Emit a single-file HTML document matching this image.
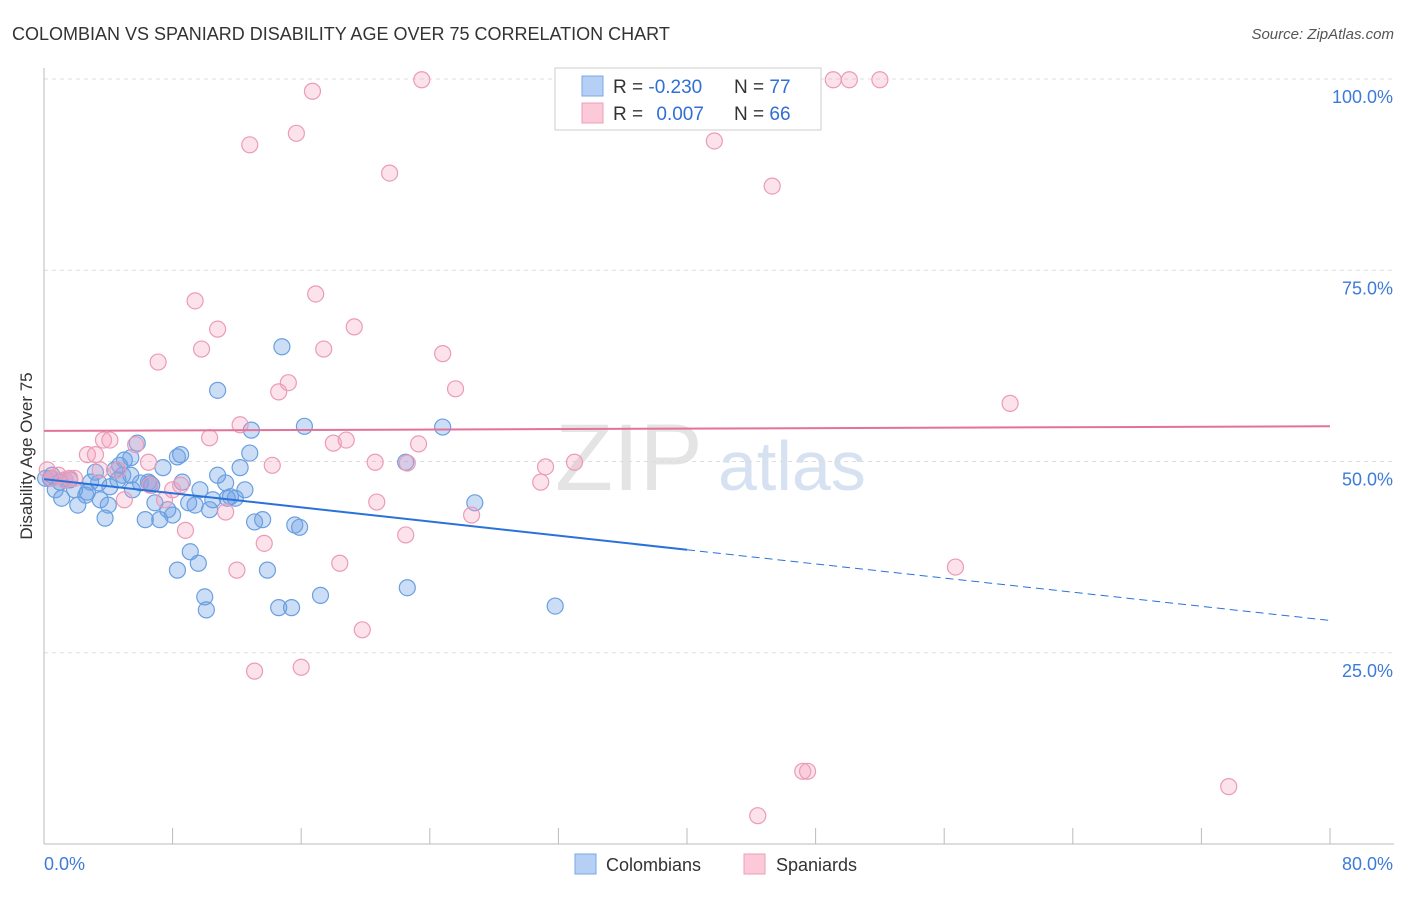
<!DOCTYPE html>
<html><head><meta charset="utf-8"><style>
body{margin:0;background:#fff;font-family:"Liberation Sans",sans-serif;}
svg text{font-family:"Liberation Sans",sans-serif;}
</style></head><body>
<svg id="chart" width="1406" height="892" xmlns="http://www.w3.org/2000/svg">
<text x="12" y="40" font-size="18" fill="#333">COLOMBIAN VS SPANIARD DISABILITY AGE OVER 75 CORRELATION CHART</text>
<text x="1394" y="39" font-size="15" fill="#555" font-style="italic" text-anchor="end">Source: ZipAtlas.com</text>
<text x="32" y="456" font-size="17" fill="#333" text-anchor="middle" transform="rotate(-90 32 456)">Disability Age Over 75</text>
<text x="555" y="490" font-size="95" fill="#e4e4e4" font-family="Liberation Serif">ZIP</text>
<text x="718" y="490" font-size="70" fill="#d6e2f2">atlas</text>
<g id="grid"></g><g id="axes"></g><g id="pts"></g><g id="trend"></g>
<g>
<rect x="555" y="68" width="266" height="62" fill="#fff" stroke="#ccc"/>
<rect x="582" y="76" width="21" height="20" fill="#b6d0f5" stroke="#7aa7e6"/>
<rect x="582" y="103" width="21" height="20" fill="#fbc9d8" stroke="#ee9db8"/>
<text x="613" y="93" font-size="19" fill="#333">R = <tspan fill="#2f6fd6">-0.230</tspan></text>
<text x="734" y="93" font-size="19" fill="#333">N = <tspan fill="#2f6fd6">77</tspan></text>
<text x="613" y="120" font-size="19" fill="#333">R = <tspan fill="#2f6fd6" dx="8">0.007</tspan></text>
<text x="734" y="120" font-size="19" fill="#333">N = <tspan fill="#2f6fd6">66</tspan></text>
</g>
<g>
<rect x="575" y="854" width="21" height="20" fill="#b6d0f5" stroke="#7aa7e6"/>
<text x="606" y="871" font-size="18" fill="#333">Colombians</text>
<rect x="744" y="854" width="21" height="20" fill="#fbc9d8" stroke="#ee9db8"/>
<text x="776" y="871" font-size="18" fill="#333">Spaniards</text>
</g>
</svg>
<script>
const blueX=[0.4,0.7,1.0,1.1,1.6,1.9,2.1,2.6,2.7,3.2,3.4,3.5,3.8,4.0,4.1,4.4,4.7,4.9,5.0,5.4,5.5,5.8,6.0,6.3,6.5,6.7,6.9,7.2,7.4,7.7,8.0,8.3,8.5,8.6,9.0,9.1,9.4,9.6,9.7,10.0,10.1,10.3,10.5,10.8,10.8,11.3,11.4,11.6,11.9,12.2,12.5,12.8,12.9,13.1,13.6,13.9,14.6,14.8,15.4,15.6,15.9,16.2,17.2,22.5,22.6,24.8,26.8,31.8,8.3,5.4,0.1,0.5,1.3,2.9,4.6,6.6];
const blueY=[47.8,46.3,47.3,45.2,47.6,46.3,44.3,45.6,46.0,48.6,47.2,45.0,42.6,44.3,46.7,48.9,49.5,48.2,50.2,48.2,46.3,52.4,47.2,42.4,47.3,46.9,44.6,42.4,49.2,43.7,43.0,50.6,50.9,47.3,44.6,38.2,44.3,36.7,46.3,32.3,30.6,43.7,45.0,59.3,48.2,47.2,45.2,45.4,45.2,49.2,46.3,51.1,54.1,42.1,42.4,35.8,30.9,65.0,30.9,41.7,41.4,54.6,32.5,49.9,33.5,54.5,44.6,31.1,35.8,50.5,47.8,48.2,47.6,47.3,47.6,47.1];
const pinkX=[0.2,0.5,0.9,1.3,1.6,1.9,2.7,3.2,3.5,3.7,4.1,4.6,5.0,5.7,6.5,6.6,7.1,7.5,8.0,8.5,8.8,9.4,9.8,10.3,10.8,11.3,12.0,12.2,12.8,13.1,13.7,14.2,14.6,15.2,15.7,16.0,16.7,16.9,17.4,18.0,18.4,18.8,19.3,19.8,20.6,20.7,21.5,22.5,22.6,23.3,23.5,24.8,25.6,26.6,30.9,31.2,33.0,41.7,44.4,45.3,47.2,47.5,49.1,50.1,52.0,56.7,60.1,73.7];
const pinkY=[48.9,47.8,48.2,47.6,47.8,47.8,50.9,50.9,48.9,52.8,52.8,48.9,45.0,52.2,49.9,46.9,63.0,45.0,46.3,46.9,41.0,71.0,64.7,53.1,67.3,43.4,35.8,54.8,91.4,22.6,39.3,49.5,59.1,60.3,92.9,23.1,98.4,71.9,64.7,52.4,36.7,52.8,67.6,28.0,49.9,44.7,87.7,40.4,49.8,52.3,99.9,64.1,59.5,43.0,47.3,49.3,49.9,91.9,3.7,86.0,9.5,9.5,99.9,99.9,99.9,36.2,57.6,7.5];
const yTicks=[25,50,75,100];
const yTickLabels=["25.0%","50.0%","75.0%","100.0%"];
const xTicks=[0,8,16,24,32,40,48,56,64,72,80];
const blueTrend=[47.7,-0.231]; // intercept, slope
const pinkTrend=[54.0,0.0075];
const blueSolidEnd=40;

const NS="http://www.w3.org/2000/svg";
const X=v=>44+v/80*1286;
const Y=v=>844-v/100*765;
function mk(tag,attrs,parent){const e=document.createElementNS(NS,tag);for(const k in attrs)e.setAttribute(k,attrs[k]);document.getElementById(parent).appendChild(e);return e;}
yTicks.forEach((t,i)=>{
  const l=mk('line',{x1:44,x2:1394,y1:Y(t),y2:Y(t),stroke:'#ddd','stroke-dasharray':'4,4'},'grid');
  
  
  const tx=mk('text',{x:1393,y:Y(t)+24,'font-size':18,fill:'#3d7bd9','text-anchor':'end'},'grid');
  tx.textContent=yTickLabels[i];
  
  
});
let a=mk('line',{x1:44,x2:44,y1:68,y2:844,stroke:'#bbb'},'axes');


a=mk('line',{x1:44,x2:1394,y1:844,y2:844,stroke:'#bbb'},'axes');


xTicks.forEach(t=>{
  const l=mk('line',{x1:X(t),x2:X(t),y1:828,y2:844,stroke:'#bbb'},'axes');
  
  
});
let t0=mk('text',{x:44,y:870,'font-size':18,fill:'#3d7bd9'},'axes');t0.textContent='0.0%';


let t1=mk('text',{x:1393,y:870,'font-size':18,fill:'#3d7bd9','text-anchor':'end'},'axes');t1.textContent='80.0%';


blueX.forEach((v,i)=>{
  const c=mk('circle',{cx:X(v),cy:Y(blueY[i]),r:8,fill:'rgba(110,160,230,0.35)',stroke:'#6a9fe0','stroke-width':1.2},'pts');
  
  
});
pinkX.forEach((v,i)=>{
  const c=mk('circle',{cx:X(v),cy:Y(pinkY[i]),r:8,fill:'rgba(245,160,190,0.3)',stroke:'#eb9bb7','stroke-width':1.2},'pts');
  
  
});
const bf=x=>blueTrend[0]+blueTrend[1]*x, pf=x=>pinkTrend[0]+pinkTrend[1]*x;
let l=mk('line',{x1:X(0),y1:Y(bf(0)),x2:X(blueSolidEnd),y2:Y(bf(blueSolidEnd)),stroke:'#2a72d8','stroke-width':2},'trend');


l=mk('line',{x1:X(blueSolidEnd),y1:Y(bf(blueSolidEnd)),x2:X(80),y2:Y(bf(80)),stroke:'#2a72d8','stroke-width':1,'stroke-dasharray':'8,5'},'trend');


l=mk('line',{x1:X(0),y1:Y(pf(0)),x2:X(80),y2:Y(pf(80)),stroke:'#e3729a','stroke-width':2},'trend');


</script>
</body></html>
